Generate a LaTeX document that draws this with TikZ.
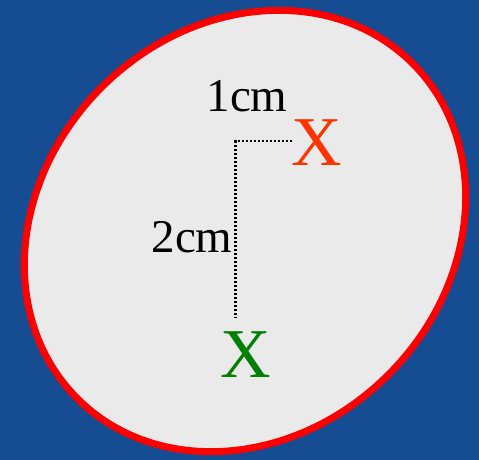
\documentclass[tikz,border=0pt]{standalone}
\usepackage{fontspec}
\setmainfont{Liberation Serif}
\usetikzlibrary{positioning}
\definecolor{bgblue}{HTML}{154C92}
\definecolor{rimred}{HTML}{FF0000}
\definecolor{cellgrey}{HTML}{EAEAEA}
\definecolor{xorange}{HTML}{FF3300}
\definecolor{xgreen}{HTML}{008000}
\tikzset{
  cross/.style={anchor=base,inner sep=0pt,font=\fontsize{70}{72}\selectfont},
  dist/.style={anchor=base,inner sep=0pt,text=black,font=\fontsize{47}{50}\selectfont},
  dots/.style={line width=2.3pt,dash pattern=on 2pt off 2pt,black},
  rim/.style={draw=rimred,fill=cellgrey,line width=7pt},
}
\begin{document}
\begin{tikzpicture}[x=1pt,y=-1pt]
      \useasboundingbox (0,0) rectangle (479,460);
      \fill[bgblue] (0,0) rectangle (479,460);
      \draw[rim,rotate around={45:(245,231)}] (245,231) ellipse [x radius=237pt,y radius=203pt];
      \node[cross,text=xorange] (newx) at (317,165) {X};
      \node[cross,text=xgreen] (oldx) at (246,377) {X};
      \coordinate (corner) at (235.5,141);
      \coordinate (foot) at (235.5,317);
      \draw[dots] (newx.west |- corner) -- (corner) -- (foot);
      \node[dist] (dx) at (247,111) {1cm};
      \node[dist] (dy) at (192,252) {2cm};
    \end{tikzpicture}
\end{document}
